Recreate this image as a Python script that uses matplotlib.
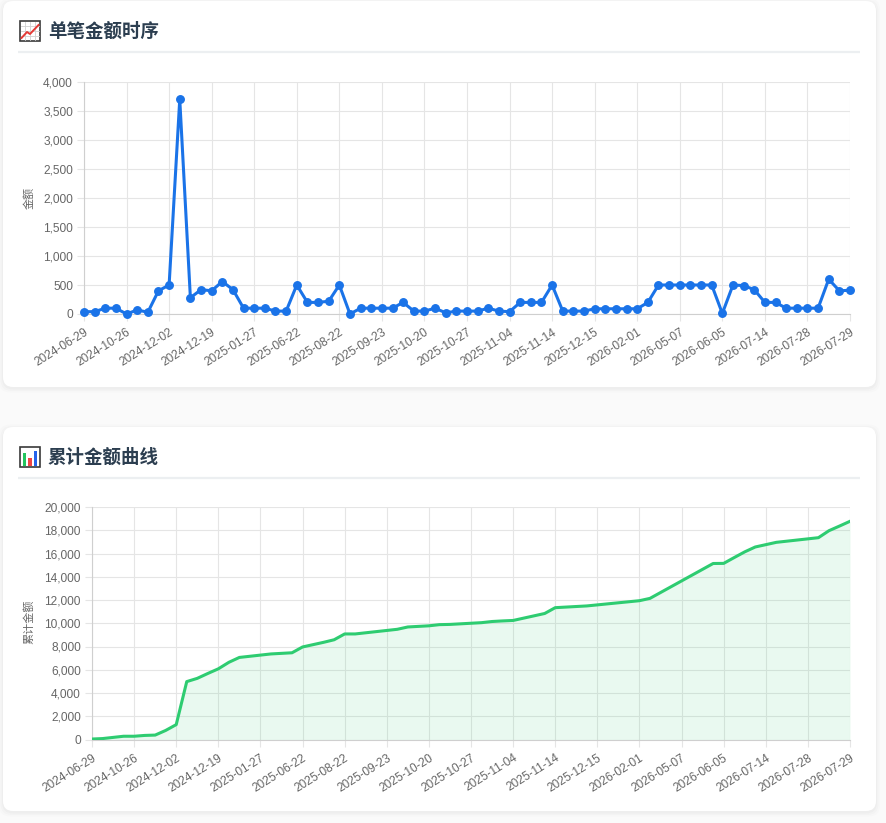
"""
单笔金额 / 累计金额 可视化
1. 上方卡片：每笔金额的折线图（带圆点）
2. 下方卡片：累计金额面积曲线
"""

import numpy as np
import matplotlib.pyplot as plt
from matplotlib.patches import FancyBboxPatch, Rectangle
from matplotlib.ticker import FuncFormatter

# 字型：英文数字用 Liberation Sans，中文退回 Noto Sans CJK SC
plt.rcParams['font.family'] = ['Liberation Sans', 'Noto Sans CJK SC', 'DejaVu Sans']
plt.rcParams['axes.unicode_minus'] = False

# ---------------- 数据 ----------------
# x 轴只显示每 4 笔一个日期标签
tick_labels = [
    '2024-06-29', '2024-10-26', '2024-12-02', '2024-12-19', '2025-01-27',
    '2025-06-22', '2025-08-22', '2025-09-23', '2025-10-20', '2025-10-27',
    '2025-11-04', '2025-11-14', '2025-12-15', '2026-02-01', '2026-05-07',
    '2026-06-05', '2026-07-14', '2026-07-28', '2026-07-29',
]
tick_step = 4

# 每笔金额（共 73 笔）
amounts = [
    40, 40, 100, 100, 0, 70, 30, 400, 500, 3700,
    280, 420, 400, 560, 420, 100, 100, 100, 50, 50,
    500, 200, 200, 220, 500, 0, 100, 100, 100, 100,
    200, 50, 50, 100, 20, 50, 50, 50, 100, 50,
    40, 200, 200, 200, 500, 50, 50, 50, 90, 90,
    90, 90, 90, 200, 500, 500, 500, 500, 500, 500,
    10, 500, 490, 420, 200, 200, 100, 100, 100, 100,
    600, 400, 410,
]

# 画布尺寸（像素）
W, H = 887, 823
DPI = 100

BLUE = '#1a73e8'
GREEN = '#2ecc71'
GRID = '#e5e5e5'
TICK_TEXT = '#666666'
TITLE_COLOR = '#2c3e50'


def px_rect(left, top, right, bottom):
    """像素坐标 -> figure 坐标 [x, y, w, h]"""
    return [left / W, 1 - bottom / H, (right - left) / W, (bottom - top) / H]


def draw_card(bg, top, bottom, title, icon):
    """画白色圆角卡片、标题、分隔线"""
    left, right = 3, 876
    # 淡淡的阴影
    for i, a in enumerate([0.018, 0.014, 0.010]):
        pad = 1 + i * 1.5
        bg.add_patch(FancyBboxPatch(
            (left - pad, top - pad + 1.5), right - left + 2 * pad, bottom - top + 2 * pad,
            boxstyle='round,pad=0,rounding_size=11', fc='black', ec='none', alpha=a))
    bg.add_patch(FancyBboxPatch(
        (left, top), right - left, bottom - top,
        boxstyle='round,pad=0,rounding_size=10', fc='white', ec='none'))

    # 标题图标（用小方块模拟 emoji）
    ix, iy = 20, top + 20
    bg.add_patch(Rectangle((ix, iy), 20, 20, fc='white', ec='#3a3a3a', lw=1.2))
    if icon == 'line':
        for g in (5, 10, 15):
            bg.plot([ix + g, ix + g], [iy + 1, iy + 19], color='#d0d0d0', lw=0.6)
            bg.plot([ix + 1, ix + 19], [iy + g, iy + g], color='#d0d0d0', lw=0.6)
        bg.plot([ix + 1.5, ix + 7, ix + 10, ix + 18.5],
                [iy + 17, iy + 11, iy + 13, iy + 4], color='#e53935', lw=1.4)
    else:
        bg.add_patch(Rectangle((ix + 3, iy + 6), 3.5, 12.5, fc='#22c55e', ec='none'))
        bg.add_patch(Rectangle((ix + 8.5, iy + 11), 3.5, 7.5, fc='#ef4444', ec='none'))
        bg.add_patch(Rectangle((ix + 14, iy + 4), 3.5, 14.5, fc='#2563eb', ec='none'))

    bg.text(48, top + 30.5, title, fontsize=13.3, color=TITLE_COLOR, va='center', ha='left',
            family=['Noto Sans CJK SC', 'DejaVu Sans'], weight='bold')
    bg.plot([18, 860], [top + 51, top + 51], color='#eceff1', lw=1.6, solid_capstyle='butt')


def style_axis(ax, ymax, ystep):
    """Chart.js 风格的坐标轴"""
    n = len(amounts)
    ax.set_xlim(0, n - 1)
    ax.set_ylim(0, ymax)
    ax.set_yticks(np.arange(0, ymax + 1, ystep))
    ax.yaxis.set_major_formatter(FuncFormatter(lambda v, p: f'{v:,.0f}'))

    tick_pos = list(range(0, n, tick_step))[:len(tick_labels)]
    ax.set_xticks(tick_pos)
    ax.set_xticklabels(tick_labels, rotation=32, ha='right', rotation_mode='anchor')

    ax.grid(True, color=GRID, lw=0.8)
    ax.set_axisbelow(True)
    for s in ('top', 'right'):
        ax.spines[s].set_visible(False)
    for s in ('left', 'bottom'):
        ax.spines[s].set_color('#cfcfcf')
        ax.spines[s].set_linewidth(0.8)
    ax.tick_params(axis='both', length=5, width=0.8, color=GRID,
                   labelsize=8.6, labelcolor=TICK_TEXT)
    ax.tick_params(axis='x', pad=4)
    ax.tick_params(axis='y', pad=3)
    ax.set_facecolor('none')


def create_amount_chart(fig):
    """单笔金额时序"""
    ax = fig.add_axes(px_rect(84, 82, 850, 314))
    x = np.arange(len(amounts))
    ax.plot(x, amounts, color=BLUE, lw=2.2, marker='o', ms=5.4,
            mfc=BLUE, mec=BLUE, clip_on=False, solid_joinstyle='round', zorder=3)
    style_axis(ax, 4000, 500)
    return ax


def create_cumulative_chart(fig):
    """累计金额曲线"""
    ax = fig.add_axes(px_rect(92, 507, 850, 739.5))
    x = np.arange(len(amounts))
    cumulative = np.cumsum(amounts)
    ax.fill_between(x, cumulative, 0, color=GREEN, alpha=0.1, lw=0, zorder=2)
    ax.plot(x, cumulative, color=GREEN, lw=2.2, solid_joinstyle='round', zorder=3)
    style_axis(ax, 20000, 2000)
    return ax


def main():
    fig = plt.figure(figsize=(W / DPI, H / DPI), dpi=DPI, facecolor='#fafafa')

    # 背景层：像素坐标
    bg = fig.add_axes([0, 0, 1, 1], zorder=-1)
    bg.set_xlim(0, W)
    bg.set_ylim(H, 0)
    bg.axis('off')

    draw_card(bg, 1, 387, '单笔金额时序', 'line')
    draw_card(bg, 427, 811, '累计金额曲线', 'bar')

    bg.text(29, 198, '金额', rotation=90, ha='center', va='center',
            fontsize=8, color=TICK_TEXT)
    bg.text(29, 622, '累计金额', rotation=90, ha='center', va='center',
            fontsize=8, color=TICK_TEXT)

    create_amount_chart(fig)
    create_cumulative_chart(fig)

    fig.savefig('out.png', dpi=DPI, facecolor=fig.get_facecolor())
    plt.close(fig)


if __name__ == '__main__':
    main()
